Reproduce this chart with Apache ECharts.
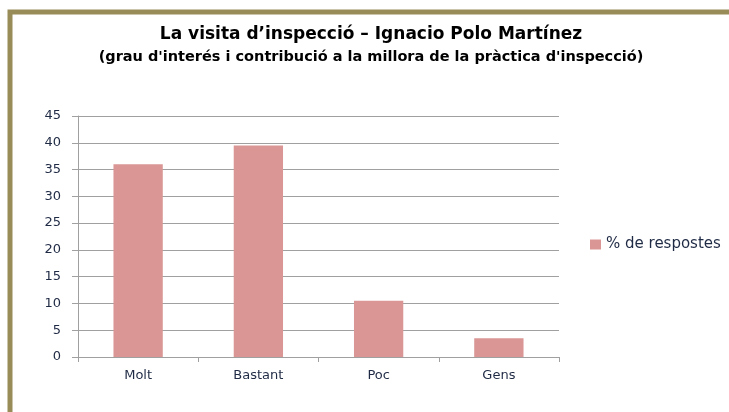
<!DOCTYPE html>
<html>
<head>
<meta charset="utf-8">
<script src="https://cdn.jsdelivr.net/npm/echarts@6/dist/echarts.min.js"></script>
<style>
  html, body { margin: 0; padding: 0; background: #fff; }
  #chart { width: 729px; height: 412px; }
</style>
</head>
<body>
<div id="chart"></div>
<script>
var categories = ['Molt', 'Bastant', 'Poc', 'Gens'];
var respostes = [36, 39.5, 10.5, 3.5];
var yTicks = { min: 0, max: 45, interval: 5 };

var chart = echarts.init(document.getElementById('chart'));
var font = '"DejaVu Sans", sans-serif';
chart.setOption({
    animation: false,
    textStyle: { fontFamily: font },
    graphic: [{
        type: 'rect',
        shape: { x: 10, y: 12, width: 800, height: 500 },
        style: { fill: 'none', stroke: '#988c58', lineWidth: 5 }
    }],
    title: {
        text: 'La visita d\u2019inspecció \u2013 Ignacio Polo Martínez',
        subtext: '(grau d\'interés i contribució a la millora de la pràctica d\'inspecció)',
        left: 366,
        textAlign: 'center',
        top: 21,
        itemGap: 7,
        textStyle: { fontFamily: font, fontSize: 17, fontWeight: 'bold', color: '#000' },
        subtextStyle: { fontFamily: font, fontSize: 14.5, fontWeight: 'bold', color: '#000' }
    },
    legend: {
        data: ['% de respostes'],
        orient: 'vertical',
        left: 585,
        top: 232,
        itemWidth: 11,
        itemHeight: 10,
        itemGap: 5,
        icon: 'rect',
        textStyle: { fontFamily: font, fontSize: 15, color: '#1f2a44' }
    },
    grid: { left: 78, right: 170, top: 116, bottom: 55 },
    xAxis: {
        type: 'category',
        data: categories,
        axisLine: { lineStyle: { color: '#a0a0a0' } },
        axisTick: { show: true, length: 5, lineStyle: { color: '#a0a0a0' } },
        axisLabel: { fontSize: 13, color: '#1f2a44', margin: 12 }
    },
    yAxis: {
        type: 'value',
        min: yTicks.min,
        max: yTicks.max,
        interval: yTicks.interval,
        axisLine: { show: true, lineStyle: { color: '#a0a0a0' } },
        axisTick: { show: true, length: 6, lineStyle: { color: '#a0a0a0' } },
        splitLine: { lineStyle: { color: '#a0a0a0' } },
        axisLabel: { fontSize: 13, color: '#1f2a44', margin: 17 }
    },
    series: [{
        name: '% de respostes',
        type: 'bar',
        data: respostes,
        barWidth: '41%',
        itemStyle: { color: '#d99694' }
    }]
});
</script>
</body>
</html>
